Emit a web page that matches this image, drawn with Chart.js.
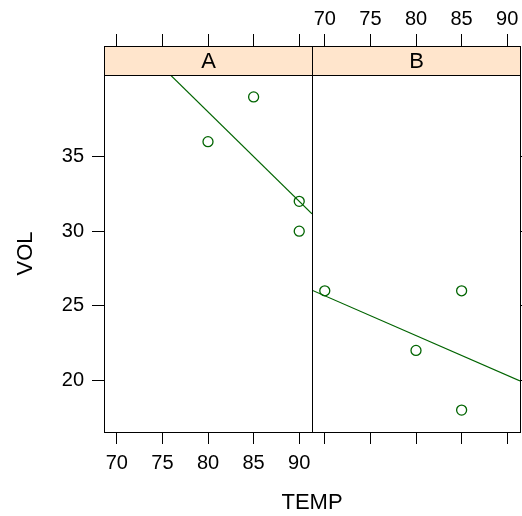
<!DOCTYPE html>
<html>
<head>
<meta charset="utf-8">
<script src="https://cdn.jsdelivr.net/npm/chart.js@4.4.1/dist/chart.umd.min.js"></script>
<style>
  body { margin: 0; background: #ffffff; }
  #wrap { position: relative; width: 522px; height: 516px; }
  canvas { position: absolute; left: 0; top: 0; }
</style>
</head>
<body>
<div id="wrap">
  <canvas id="panelA" width="522" height="516"></canvas>
  <canvas id="panelB" width="522" height="516"></canvas>
</div>
<script>
// Data
const panels = ["A", "B"]
const tempA = [80, 85, 90, 90]
const volA = [36, 39, 32, 30]
const tempB = [70, 80, 85, 85]
const volB = [26, 22, 26, 18]
const xTicks = [70, 75, 80, 85, 90]
const yTicks = [20, 25, 30, 35]

const green = "#006400"
const stripFill = "#ffe5cc"
const font = "'Liberation Sans', Arial, sans-serif"
const tickSize = 20
const titleSize = 22

// lattice style limits: data range padded by 7% each side
function limits(values) {
  const lo = Math.min(...values)
  const hi = Math.max(...values)
  const pad = (hi - lo) * 0.07
  return [lo - pad, hi + pad]
}
const [xMin, xMax] = limits(tempA.concat(tempB))
const [yMin, yMax] = limits(volA.concat(volB))

// least squares line through one panel
function lmLine(xs, ys) {
  const n = xs.length
  const mx = xs.reduce((a, b) => a + b, 0) / n
  const my = ys.reduce((a, b) => a + b, 0) / n
  let sxy = 0, sxx = 0
  xs.forEach((x, i) => {
    sxy += (x - mx) * (ys[i] - my)
    sxx += (x - mx) * (x - mx)
  })
  const slope = sxy / sxx
  const icept = my - slope * mx
  return [xMin, xMax].map((x) => ({ x: x, y: icept + slope * x }))
}

const fixTicks = (vals) => (scale) => {
  scale.ticks = vals.map((v) => ({ value: v }))
}

// force axis box sizes so both panels line up exactly
const fitX = (h) => (s) => {
  s.height = h
  s.paddingLeft = 0
  s.paddingRight = 0
}
const fitY = (w) => (s) => {
  s.width = w
  s.paddingTop = 0
  s.paddingBottom = 0
}

// panel box, strip and outer labels
const panelDeco = {
  id: "panelDeco",
  afterDraw(chart, args, opts) {
    const { ctx, chartArea: a } = chart
    const l = Math.round(a.left) + 0.5
    const r = Math.round(a.right) + 0.5
    const t = Math.round(a.top) + 0.5
    const b = Math.round(a.bottom) + 0.5
    ctx.save()
    ctx.lineWidth = 1
    ctx.strokeStyle = "#000000"
    ctx.fillStyle = stripFill
    ctx.fillRect(l, t - 29, r - l, 29)
    ctx.strokeRect(l, t - 29, r - l, 29)
    ctx.strokeRect(l, t, r - l, b - t)
    ctx.fillStyle = "#000000"
    ctx.font = titleSize + "px " + font
    ctx.textAlign = "center"
    ctx.textBaseline = "middle"
    ctx.fillText(opts.label, (l + r) / 2, t - 14)
    if (opts.xTitle) {
      ctx.fillText(opts.xTitle, 312, 503)
    }
    ctx.restore()
  },
}

function makeChart(id, xs, ys, side) {
  const left = side === "left"
  const tickGrid = (len) => ({
    display: true,
    drawOnChartArea: false,
    drawTicks: true,
    tickLength: len,
    color: "#000000",
    lineWidth: 1,
  })
  const tickFont = { size: tickSize, family: font }
  return new Chart(document.getElementById(id), {
    type: "scatter",
    data: {
      datasets: [
        {
          data: xs.map((x, i) => ({ x: x, y: ys[i] })),
          pointStyle: "circle",
          pointRadius: 5,
          pointBorderWidth: 1.3,
          borderColor: green,
          backgroundColor: "rgba(0,0,0,0)",
          showLine: false,
        },
        {
          data: lmLine(xs, ys),
          showLine: true,
          pointRadius: 0,
          borderColor: green,
          borderWidth: 1.2,
          fill: false,
        },
      ],
    },
    options: {
      responsive: false,
      animation: false,
      devicePixelRatio: 1,
      layout: {
        autoPadding: false,
        padding: { left: left ? 0 : 312, right: left ? 210 : 0, top: 0, bottom: 0 },
      },
      plugins: {
        legend: { display: false },
        tooltip: { enabled: false },
        panelDeco: { label: left ? panels[0] : panels[1], xTitle: left ? "TEMP" : null },
      },
      scales: {
        x: {
          type: "linear",
          position: "bottom",
          min: xMin,
          max: xMax,
          afterBuildTicks: fixTicks(xTicks),
          afterFit: fitX(84),
          grid: tickGrid(12),
          border: { display: false },
          ticks: { display: left, color: "#000000", font: tickFont, padding: 7, maxRotation: 0 },
        },
        xTop: {
          type: "linear",
          position: "top",
          min: xMin,
          max: xMax,
          afterBuildTicks: fixTicks(xTicks),
          afterFit: fitX(75),
          grid: tickGrid(41),
          border: { display: false },
          ticks: { display: !left, color: "#000000", font: tickFont, padding: 3, maxRotation: 0 },
        },
        y: {
          type: "linear",
          position: left ? "left" : "right",
          min: yMin,
          max: yMax,
          afterBuildTicks: fixTicks(yTicks),
          afterFit: fitY(left ? 104 : 2),
          grid: tickGrid(12),
          border: { display: false },
          ticks: { display: left, color: "#000000", font: tickFont, padding: 8 },
          title: {
            display: left,
            text: "VOL",
            color: "#000000",
            font: { size: titleSize, family: font },
            padding: { top: 13, bottom: 0 },
          },
        },
      },
    },
    plugins: [panelDeco],
  })
}

makeChart("panelA", tempA, volA, "left")
makeChart("panelB", tempB, volB, "right")
</script>
</body>
</html>
